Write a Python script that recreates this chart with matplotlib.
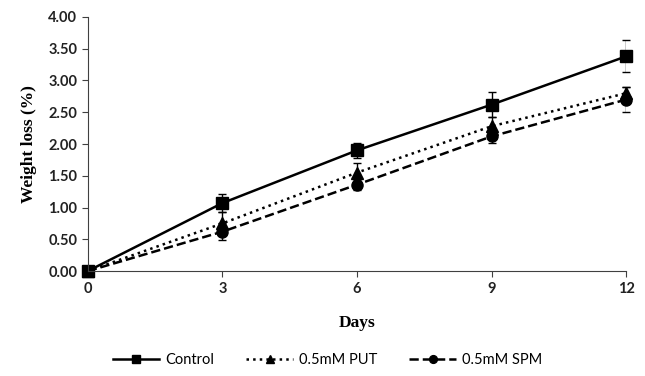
import matplotlib
matplotlib.use('Agg')
import matplotlib.pyplot as plt
from matplotlib.lines import Line2D
import numpy as np

days = [0, 3, 6, 9, 12]

control = [0.0, 1.07, 1.90, 2.62, 3.38]
control_err = [0.0, 0.14, 0.12, 0.20, 0.25]

put = [0.0, 0.75, 1.55, 2.28, 2.80]
put_err = [0.0, 0.18, 0.15, 0.14, 0.10]

spm = [0.0, 0.62, 1.36, 2.12, 2.70]
spm_err = [0.0, 0.13, 0.08, 0.10, 0.20]

fig = plt.figure(figsize=(6.45, 3.76), dpi=100)
ax = fig.add_axes([0.136, 0.279, 0.835, 0.676])

styles = [('Control', control, control_err, '-', 's', 9),
          ('0.5mM PUT', put, put_err, ':', '^', 8),
          ('0.5mM SPM', spm, spm_err, '--', 'o', 8)]

handles = []
for name, vals, err, ls, mk, ms in styles:
    ax.errorbar(days, vals, yerr=err, color='black', ls=ls, lw=1.8,
                marker=mk, ms=ms, capsize=3, elinewidth=1)
    handles.append(Line2D([], [], color='black', ls=ls, lw=1.8, marker=mk,
                          ms=ms * 0.7, label=name))

ax.set_xlim(0, 12)
ax.set_ylim(0, 4)
ax.set_xticks(days)
ax.set_yticks(np.arange(0, 4.01, 0.5))
ax.set_yticklabels(['%.2f' % v for v in np.arange(0, 4.01, 0.5)])
for s in ['top', 'right']:
    ax.spines[s].set_visible(False)
for s in ['left', 'bottom']:
    ax.spines[s].set_color('#404040')
    ax.spines[s].set_clip_on(False)
ax.tick_params(direction='out', length=4, color='#404040', labelsize=10.5)
for lab in ax.get_xticklabels() + ax.get_yticklabels():
    lab.set_family('Lato')
    lab.set_fontweight('bold')
    lab.set_color('#222222')

ax.set_xlabel('Days', family='Liberation Serif', fontweight='bold', fontsize=12.5, labelpad=14)
ax.set_ylabel('Weight loss (%)', family='Liberation Serif', fontweight='bold', fontsize=12.5, labelpad=8)

for ln in ax.lines:
    ln.set_clip_on(False)

leg = ax.legend(handles=handles, loc='center', bbox_to_anchor=(0.445, -0.35), ncol=3,
                frameon=False, prop={'family': 'Lato', 'size': 10.5},
                handlelength=3.2, columnspacing=2.2, handletextpad=0.4)

plt.savefig('out.png', dpi=100)
